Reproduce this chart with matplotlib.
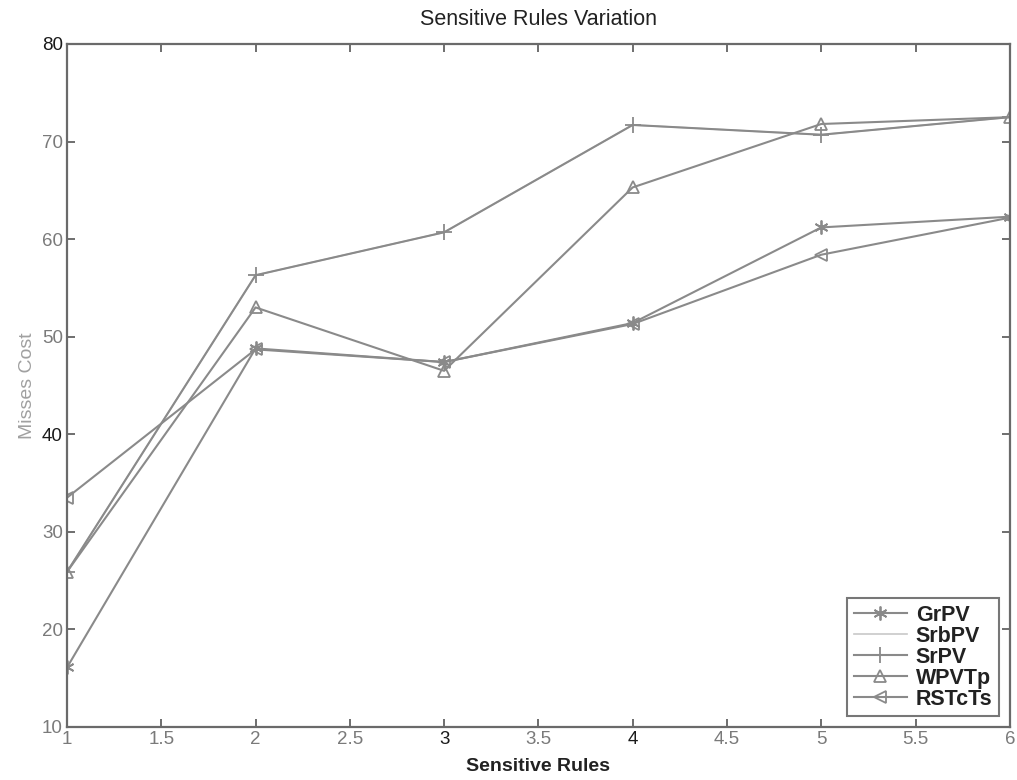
import matplotlib
matplotlib.use("Agg")
import matplotlib.pyplot as plt

plt.rcParams['font.family'] = ['Liberation Sans', 'DejaVu Sans']

x = [1, 2, 3, 4, 5, 6]
grpv = [16.1, 48.8, 47.4, 51.4, 61.2, 62.3]
srbpv = [25.9, 56.3, 60.7, 71.7, 70.7, 72.5]
srpv = [25.9, 56.3, 60.7, 71.7, 70.7, 72.5]
wpvtp = [25.9, 53.0, 46.5, 65.3, 71.8, 72.5]
rstcts = [33.5, 48.7, 47.4, 51.3, 58.4, 62.2]
labels = ["GrPV", "SrbPV", "SrPV", "WPVTp", "RSTcTs"]

xticks = [1, 1.5, 2, 2.5, 3, 3.5, 4, 4.5, 5, 5.5, 6]
xticklabels = ["1", "1.5", "2", "2.5", "3", "3.5", "4", "4.5", "5", "5.5", "6"]
yticks = [10, 20, 30, 40, 50, 60, 70, 80]
yticklabels = ["10", "20", "30", "40", "50", "60", "70", "80"]

gray = '#8a8a8a'
fig = plt.figure(figsize=(10.17, 7.8), dpi=100)
ax = fig.add_axes([0.0659, 0.068, 0.927, 0.8756])

ax.plot(x, grpv, color=gray, lw=1.5, marker=(6, 2, 0), ms=10, mew=1.3, label=labels[0])
ax.plot(x, srbpv, color='#c8c8c8', lw=1.2, label=labels[1])
ax.plot(x, srpv, color=gray, lw=1.5, marker='+', ms=11, mew=1.3, label=labels[2])
ax.plot(x, wpvtp, color=gray, lw=1.5, marker='^', ms=9, mfc='none', mew=1.3, label=labels[3])
ax.plot(x, rstcts, color=gray, lw=1.5, marker='<', ms=9, mfc='none', mew=1.3, label=labels[4])

ax.set_xlim(1, 6)
ax.set_ylim(10, 80)
ax.set_xticks(xticks)
ax.set_xticklabels(xticklabels)
ax.set_yticks(yticks)
ax.set_yticklabels(yticklabels)
ax.tick_params(direction='in', top=True, right=True, length=6, width=1.2,
               colors='#555555', labelsize=13.5, labelcolor='#7a7a7a', pad=3)
dark = {"3", "4", "40", "80"}
for t in ax.get_xticklabels() + ax.get_yticklabels():
    if t.get_text() in dark:
        t.set_color('#1a1a1a')
for s in ax.spines.values():
    s.set_color('#6a6a6a')
    s.set_linewidth(1.6)

ax.set_title("Sensitive Rules Variation", fontsize=15.5, color='#222222', pad=14)
ax.set_xlabel("Sensitive Rules", fontsize=14, fontweight='bold', color='#222222')
ax.xaxis.set_label_coords(0.5, -0.045)
ax.set_ylabel("Misses Cost", fontsize=14, color='#a0a0a0', labelpad=4)

leg = ax.legend(loc='lower right', fontsize=15.5, frameon=True, fancybox=False,
                edgecolor='#555555', labelspacing=0.0, handlelength=2.5,
                handletextpad=0.4, borderpad=0.3, borderaxespad=0.5)
leg.get_frame().set_linewidth(1.5)
for t in leg.get_texts():
    t.set_color('#222222')
    t.set_fontweight('bold')

fig.savefig("out.png", dpi=100)
